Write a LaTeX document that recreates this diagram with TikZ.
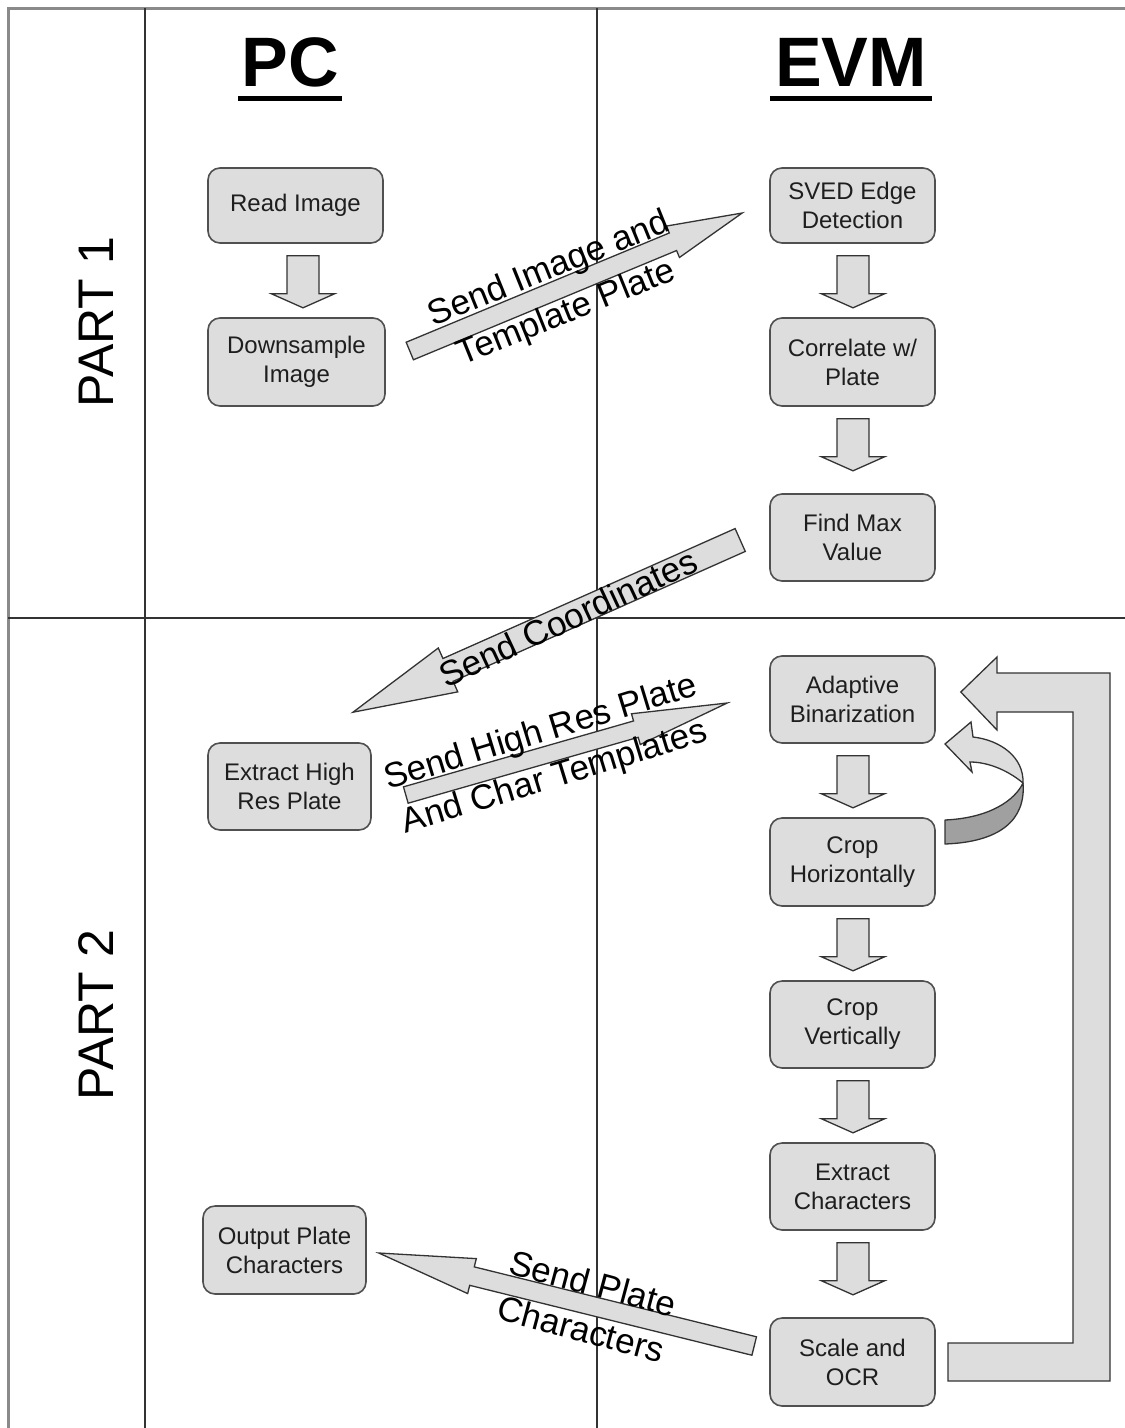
\documentclass[tikz,border=0pt]{standalone}
\usepackage{fontspec}
\setmainfont{Liberation Sans}
\usetikzlibrary{calc}
\definecolor{boxfill}{HTML}{DDDDDD}
\definecolor{boxline}{HTML}{505050}
\definecolor{framegray}{HTML}{8A8A8A}
\definecolor{gridcol}{HTML}{333333}
\definecolor{darkfold}{HTML}{A0A0A0}
\definecolor{txtdark}{HTML}{1E1E1E}

\newcommand{\mkblockarrow}[5]{%
  \coordinate (ba-t) at (#1);
  \coordinate (ba-p) at (#2);
  \coordinate (ba-h) at ($(ba-p)!#5!(ba-t)$);
  \draw[blockarr] ($(ba-t)!#3!90:(ba-p)$) -- ($(ba-h)!#3!-90:(ba-t)$) -- ($(ba-h)!#4!-90:(ba-t)$) -- (ba-p) -- ($(ba-h)!#4!90:(ba-t)$) -- ($(ba-h)!#3!90:(ba-t)$) -- ($(ba-t)!#3!-90:(ba-p)$) -- cycle;
}

\begin{document}
\begin{tikzpicture}[x=1pt,y=-1pt,
  procbox/.style={rounded corners=12pt, fill=boxfill, draw=boxline, line width=1.6pt,
    align=center, inner sep=0pt, text=txtdark,
    font=\fontsize{24}{29}\selectfont},
  blockarr/.style={fill=boxfill, draw=gridcol, line width=1.3pt, line join=miter},
  arrlabel/.style={align=center, inner sep=0pt, text=black,
    font=\fontsize{35}{47}\selectfont},
  gridline/.style={gridcol, line width=2pt},
  header/.style={font=\fontsize{70}{80}\selectfont\bfseries, anchor=base, inner sep=0pt},
  partlabel/.style={font=\fontsize{50}{60}\selectfont, rotate=90, inner sep=0pt}
]
\useasboundingbox (0,0) rectangle (1125,1428);
\fill[white] (0,0) rectangle (1125,1428);

% frame and grid
\draw[framegray, line width=3pt] (8,1428) -- (8,8) -- (1125,8);
\draw[gridline] (145,8) -- (145,1428);
\draw[gridline] (597,8) -- (597,1428);
\draw[gridline] (8,618) -- (1125,618);

% headers
\node[header] (pc) at (290.5,86) {PC};
\draw[line width=5pt] (238,98) -- (342,98);
\node[header] (evm) at (851,86) {EVM};
\draw[line width=5pt] (770,98) -- (932,98);

\node[partlabel] (p1) at (96.5,322) {PART 1};
\node[partlabel] (p2) at (96.5,1015) {PART 2};

% boxes
\node[procbox, minimum width=175pt, minimum height=75pt] (read) at (295.5,205.5) {Read Image};
\node[procbox, minimum width=177pt, minimum height=88pt] (down) at (296.5,362) {Downsample\\Image};
\node[procbox, minimum width=165pt, minimum height=75pt] (sved) at (852.5,205.5) {SVED Edge\\Detection};
\node[procbox, minimum width=165pt, minimum height=88pt] (corr) at (852.5,362) {Correlate w/\\Plate};
\node[procbox, minimum width=165pt, minimum height=87pt] (fmax) at (852.5,537.5) {Find Max\\Value};
\node[procbox, minimum width=165pt, minimum height=87pt] (adapt) at (852.5,699.5) {Adaptive\\Binarization};
\node[procbox, minimum width=163pt, minimum height=87pt] (xhigh) at (289.5,786.5) {Extract High\\Res Plate};
\node[procbox, minimum width=165pt, minimum height=88pt] (croph) at (852.5,862) {Crop\\Horizontally};
\node[procbox, minimum width=165pt, minimum height=87pt] (cropv) at (852.5,1024.5) {Crop\\Vertically};
\node[procbox, minimum width=165pt, minimum height=87pt] (xchar) at (852.5,1186.5) {Extract\\Characters};
\node[procbox, minimum width=165pt, minimum height=88pt] (scale) at (852.5,1362) {Scale and\\OCR};
\node[procbox, minimum width=163pt, minimum height=88pt] (outp) at (284.5,1250) {Output Plate\\Characters};

% down arrows
\mkblockarrow{$(read.south)+(7.5,12)$}{$(read.south)+(7.5,64)$}{16pt}{31.5pt}{14pt}
\mkblockarrow{$(sved.south)+(0.5,12)$}{$(sved.south)+(0.5,64)$}{16pt}{31.5pt}{14pt}
\mkblockarrow{$(corr.south)+(0.5,12)$}{$(corr.south)+(0.5,64)$}{16pt}{31.5pt}{14pt}
\mkblockarrow{$(adapt.south)+(0.5,12)$}{$(adapt.south)+(0.5,64)$}{16pt}{31.5pt}{14pt}
\mkblockarrow{$(croph.south)+(0.5,12)$}{$(croph.south)+(0.5,64)$}{16pt}{31.5pt}{14pt}
\mkblockarrow{$(cropv.south)+(0.5,12)$}{$(cropv.south)+(0.5,64)$}{16pt}{31.5pt}{14pt}
\mkblockarrow{$(xchar.south)+(0.5,12)$}{$(xchar.south)+(0.5,64)$}{16pt}{31.5pt}{14pt}

% diagonal transfer arrows
\mkblockarrow{$(down.east)+(24,-11)$}{$(sved.west)+(-27,7.5)$}{9.5pt}{17pt}{75pt}
\mkblockarrow{$(fmax.west)+(-29,2.5)$}{$(xhigh.north)+(63.5,-30)$}{12.5pt}{24pt}{104pt}
\mkblockarrow{$(xhigh.east)+(34,8.5)$}{$(adapt.west)+(-42,3.5)$}{8.5pt}{16pt}{95pt}
\mkblockarrow{$(scale.west)+(-15,-16)$}{$(outp.east)+(12,3)$}{9.5pt}{18pt}{96pt}

\node[arrlabel, rotate=22] (t1) at (558,292) {Send Image and\\Template Plate};
\node[arrlabel, rotate=25] (t2) at (568,618) {Send Coordinates};
\node[arrlabel, rotate=17] (t3) at (548,756) {Send High Res Plate\\And Char Templates};
\node[arrlabel, rotate=-15] (t4) at (587,1306) {Send Plate\\Characters};

% big loop arrow from Scale and OCR back to Adaptive Binarization
\coordinate (loopstart) at ($(scale.east)+(13,0)$);
\coordinate (looptip) at ($(adapt.east)+(25,-7.5)$);
\draw[blockarr] (948,1343) -- (1073,1343) -- (1073,712) -- (997,712) -- (997,730)
  -- (looptip) -- (997,657) -- (997,673) -- (1110,673) -- (1110,1381) -- (948,1381) -- cycle;

% curved arrow from Crop Horizontally back to Adaptive Binarization
\draw[fill=darkfold, draw=gridcol, line width=1.3pt, line join=round]
  (945,820) .. controls (990,818) and (1015,800) .. (1023,783)
  .. controls (1026,820) and (1000,842) .. (945,844) -- cycle;
\draw[fill=boxfill, draw=gridcol, line width=1.3pt, line join=miter]
  (945,744) -- (971,722) -- (973,737) .. controls (1000,740) and (1024,757) .. (1023,783)
  .. controls (1010,772) and (990,762) .. (970,762) -- (972,772) -- cycle;
\end{tikzpicture}
\end{document}
